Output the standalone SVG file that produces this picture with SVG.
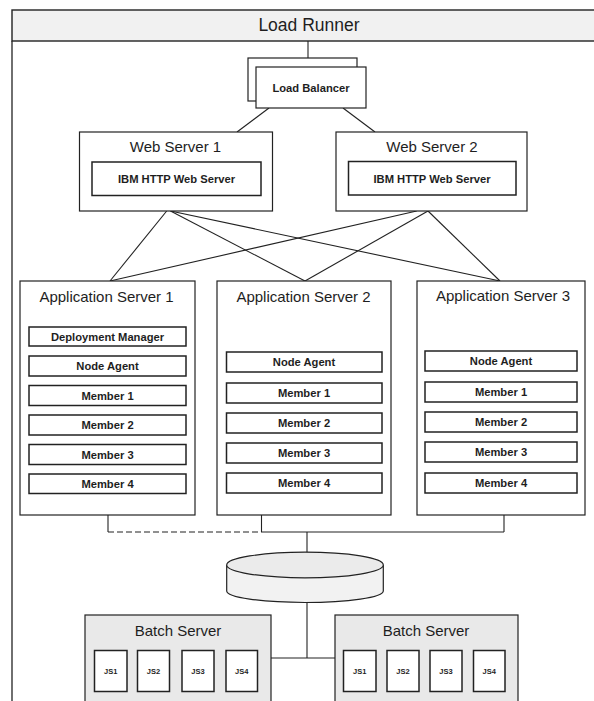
<svg xmlns="http://www.w3.org/2000/svg" width="594" height="701" viewBox="0 0 594 701">
<style>
  .frame{fill:none;stroke:#222;stroke-width:1.3}
  .box{fill:#fff;stroke:#222;stroke-width:1.2}
  .inner{fill:#fff;stroke:#222;stroke-width:1.5}
  .grey{fill:#e9e9e9;stroke:#222;stroke-width:1.2}
  .conn{fill:none;stroke:#222;stroke-width:1.1}
  .t{font-family:"Liberation Sans",Arial,sans-serif;fill:#1e1e1e;text-anchor:middle}
  .title{font-size:15px}
  .lbl{font-size:11.2px;font-weight:bold}
  .js{font-size:7.5px;font-weight:bold}
</style>
<rect x="0" y="0" width="594" height="701" fill="#fff"/>

<g id="frame">
  <rect x="12" y="10" width="590" height="31" fill="#f1f1f1" stroke="#222" stroke-width="1.4"/>
  <line x1="12" y1="41" x2="12" y2="701" stroke="#222" stroke-width="1.3"/>
  <text class="t" x="309" y="31" font-size="17.5">Load Runner</text>
</g>

<g id="connectors">
  <line class="conn" x1="308" y1="41" x2="308" y2="58"/>
  <line class="conn" x1="269" y1="108" x2="237" y2="132"/>
  <line class="conn" x1="343" y1="108" x2="375" y2="132"/>
  <line class="conn" x1="166.7" y1="211" x2="110" y2="281"/>
  <line class="conn" x1="170.5" y1="211" x2="305" y2="281"/>
  <line class="conn" x1="170.5" y1="211" x2="500" y2="281"/>
  <line class="conn" x1="416.7" y1="211" x2="110" y2="281"/>
  <line class="conn" x1="428" y1="211" x2="305" y2="281"/>
  <line class="conn" x1="428" y1="211" x2="500" y2="281"/>
  <line class="conn" x1="108" y1="515" x2="108" y2="532"/>
  <line class="conn" x1="108" y1="532" x2="261" y2="532" stroke-dasharray="6 3"/>
  <line class="conn" x1="261.5" y1="515" x2="261.5" y2="532"/>
  <line class="conn" x1="261" y1="532" x2="504" y2="532"/>
  <line class="conn" x1="504" y1="515" x2="504" y2="532"/>
  <line class="conn" x1="307" y1="532" x2="307" y2="552"/>
  <line class="conn" x1="307" y1="602.5" x2="307" y2="658"/>
  <line class="conn" x1="271" y1="658" x2="335" y2="658"/>
</g>

<g id="load-balancer">
  <rect class="box" x="248" y="58" width="109" height="43"/>
  <rect class="box" x="256" y="67" width="110" height="41"/>
  <text class="t lbl" x="311" y="91.5">Load Balancer</text>
</g>

<g id="web-server-1">
  <rect class="box" x="79.5" y="132" width="193" height="79"/>
  <text class="t title" x="175.5" y="152">Web Server 1</text>
  <rect class="inner" x="92" y="162" width="169" height="33.5"/>
  <text class="t lbl" x="176.5" y="182.5">IBM HTTP Web Server</text>
</g>

<g id="web-server-2">
  <rect class="box" x="336" y="132" width="191" height="79"/>
  <text class="t title" x="432" y="152">Web Server 2</text>
  <rect class="inner" x="348.5" y="161.5" width="167.5" height="33.5"/>
  <text class="t lbl" x="432" y="182.5">IBM HTTP Web Server</text>
</g>

<g id="app-server-1">
  <rect class="box" x="20" y="281" width="175" height="234"/>
  <text class="t title" x="106.5" y="301.5">Application Server 1</text>
  <rect class="inner" x="29" y="327" width="157" height="19"/>
  <text class="t lbl" x="107.5" y="340.5">Deployment Manager</text>
  <rect class="inner" x="29" y="356" width="157" height="20"/>
  <text class="t lbl" x="107.5" y="370">Node Agent</text>
  <rect class="inner" x="29" y="385.5" width="157" height="20"/>
  <text class="t lbl" x="107.5" y="399.5">Member 1</text>
  <rect class="inner" x="29" y="415" width="157" height="20"/>
  <text class="t lbl" x="107.5" y="429">Member 2</text>
  <rect class="inner" x="29" y="444.5" width="157" height="20"/>
  <text class="t lbl" x="107.5" y="458.5">Member 3</text>
  <rect class="inner" x="29" y="474" width="157" height="19.5"/>
  <text class="t lbl" x="107.5" y="487.5">Member 4</text>
</g>

<g id="app-server-2">
  <rect class="box" x="217" y="281" width="174" height="234"/>
  <text class="t title" x="303.5" y="301.5">Application Server 2</text>
  <rect class="inner" x="226.5" y="352" width="155.5" height="20"/>
  <text class="t lbl" x="304" y="366">Node Agent</text>
  <rect class="inner" x="226.5" y="383" width="155.5" height="20"/>
  <text class="t lbl" x="304" y="397">Member 1</text>
  <rect class="inner" x="226.5" y="413" width="155.5" height="20"/>
  <text class="t lbl" x="304" y="427">Member 2</text>
  <rect class="inner" x="226.5" y="443" width="155.5" height="20"/>
  <text class="t lbl" x="304" y="457">Member 3</text>
  <rect class="inner" x="226.5" y="473" width="155.5" height="20"/>
  <text class="t lbl" x="304" y="487">Member 4</text>
</g>

<g id="app-server-3">
  <rect class="box" x="417" y="281" width="168" height="234"/>
  <text class="t title" x="503" y="300.5">Application Server 3</text>
  <rect class="inner" x="425" y="351" width="152" height="20"/>
  <text class="t lbl" x="501" y="365">Node Agent</text>
  <rect class="inner" x="425" y="382" width="152" height="20"/>
  <text class="t lbl" x="501" y="396">Member 1</text>
  <rect class="inner" x="425" y="412" width="152" height="20"/>
  <text class="t lbl" x="501" y="426">Member 2</text>
  <rect class="inner" x="425" y="442" width="152" height="20"/>
  <text class="t lbl" x="501" y="456">Member 3</text>
  <rect class="inner" x="425" y="473" width="152" height="20"/>
  <text class="t lbl" x="501" y="487">Member 4</text>
</g>

<g id="database">
  <path d="M226.7,565 L226.7,591 A78.3,11.5 0 0 0 383.3,591 L383.3,565" fill="#f2f2f2" stroke="#222" stroke-width="1.2"/>
  <ellipse cx="305" cy="565" rx="78.3" ry="12.8" fill="#ebebeb" stroke="#222" stroke-width="1.2"/>
</g>

<g id="batch-server-1">
  <rect class="grey" x="85" y="615" width="186" height="90"/>
  <text class="t title" x="178" y="636">Batch Server</text>
  <rect class="inner" x="94.5" y="650.5" width="32.5" height="41"/>
  <text class="t js" x="110.7" y="673.5">JS1</text>
  <rect class="inner" x="137.5" y="650.5" width="32" height="41"/>
  <text class="t js" x="153.5" y="673.5">JS2</text>
  <rect class="inner" x="182" y="650.5" width="32" height="41"/>
  <text class="t js" x="198" y="673.5">JS3</text>
  <rect class="inner" x="226" y="650.5" width="31.5" height="41"/>
  <text class="t js" x="241.7" y="673.5">JS4</text>
</g>

<g id="batch-server-2">
  <rect class="grey" x="335" y="615" width="183" height="90"/>
  <text class="t title" x="426" y="636">Batch Server</text>
  <rect class="inner" x="343.5" y="650.5" width="32.5" height="41"/>
  <text class="t js" x="359.7" y="673.5">JS1</text>
  <rect class="inner" x="387" y="650.5" width="32" height="41"/>
  <text class="t js" x="403" y="673.5">JS2</text>
  <rect class="inner" x="430" y="650.5" width="32" height="41"/>
  <text class="t js" x="446" y="673.5">JS3</text>
  <rect class="inner" x="473.5" y="650.5" width="31.5" height="41"/>
  <text class="t js" x="489.2" y="673.5">JS4</text>
</g>
</svg>
